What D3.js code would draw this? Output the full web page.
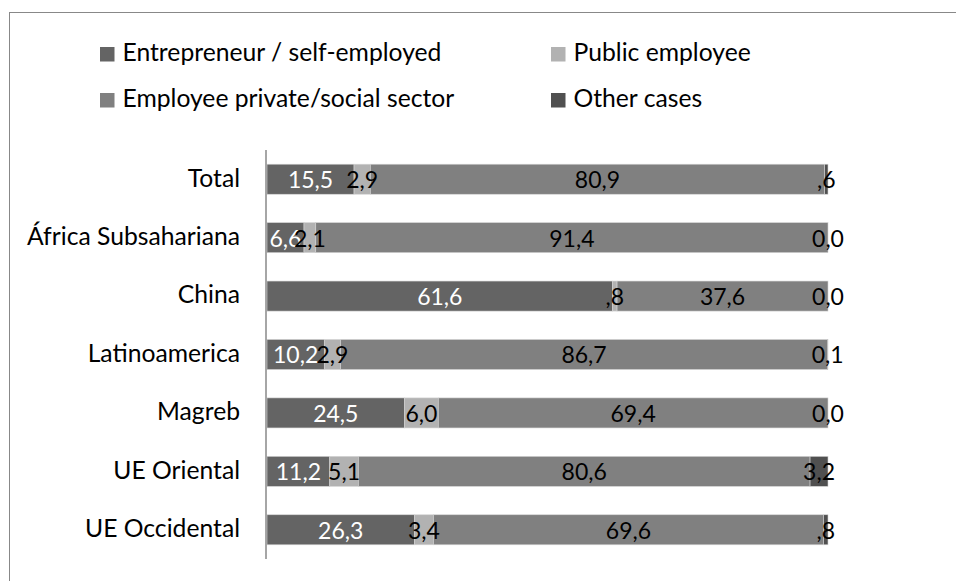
<!DOCTYPE html>
<html><head><meta charset="utf-8">
<script src="https://cdn.jsdelivr.net/npm/d3@7"></script>
<style>body{margin:0;background:#fff}svg{display:block}text{font-family:Lato,"Open Sans",sans-serif}</style>
</head><body>
<svg id="c" width="956" height="581"></svg>
<script>
const categories = ["Total","África Subsahariana","China","Latinoamerica","Magreb","UE Oriental","UE Occidental"];
const seriesNames = ["Entrepreneur / self-employed","Public employee","Employee private/social sector","Other cases"];
const entrepreneur = [15.5, 6.6, 61.6, 10.2, 24.5, 11.2, 26.3];
const publicEmployee = [2.9, 2.1, 0.8, 2.9, 6.0, 5.1, 3.4];
const privateEmployee = [80.9, 91.4, 37.6, 86.7, 69.4, 80.6, 69.6];
const otherCases = [0.6, 0.0, 0.0, 0.1, 0.0, 3.2, 0.8];
// label text as printed on the chart
const entrepreneurLabels = ["15,5","6,6","61,6","10,2","24,5","11,2","26,3"];
const publicLabels = ["2,9","2,1",",8","2,9","6,0","5,1","3,4"];
const privateLabels = ["80,9","91,4","37,6","86,7","69,4","80,6","69,6"];
const otherLabels = [",6","0,0","0,0","0,1","0,0","3,2",",8"];

const colors = ["#646464","#b2b2b2","#808080","#505050"];
const labelColors = ["#ffffff","#000000","#000000","#000000"];
const seriesValues = [entrepreneur, publicEmployee, privateEmployee, otherCases];
const seriesLabels = [entrepreneurLabels, publicLabels, privateLabels, otherLabels];

const svg = d3.select("#c");
svg.append("rect").attr("x",9.5).attr("y",12.5).attr("width",980).attr("height",620)
  .attr("fill","none").attr("stroke","#888").attr("stroke-width",1);

const x = d3.scaleLinear().domain([0,100]).range([267,828]);
const y = d3.scaleBand().domain(categories).range([150,559]).paddingInner(0.486).paddingOuter(0.243);

const rows = categories.map((c,i)=>{
  const vals = seriesValues.map(s=>s[i]);
  const tot = d3.sum(vals);
  let acc = 0;
  return vals.map((v,k)=>{ const x0 = acc/tot*100; acc += v; return {cat:c,k,x0,x1:acc/tot*100,label:seriesLabels[k][i]}; });
});

const g = svg.append("g");
rows.forEach(r=>{
  r.forEach(d=>{
    g.append("rect").attr("x",x(d.x0)).attr("y",y(d.cat)).attr("width",Math.max(0,x(d.x1)-x(d.x0)))
      .attr("height",y.bandwidth()).attr("fill",colors[d.k])
      .attr("stroke","#d4d4d4").attr("stroke-width",0.6).attr("stroke-opacity",d.x1-d.x0>0?1:0);
  });
});
rows.forEach(r=>{
  r.forEach(d=>{
    g.append("text").attr("x",(x(d.x0)+x(d.x1))/2).attr("y",y(d.cat)+y.bandwidth()/2)
      .attr("dy","0.39em").attr("text-anchor","middle").attr("font-size",23)
      .attr("fill",labelColors[d.k]).text(d.label);
  });
});

// axis
const axis = svg.append("g").attr("transform","translate(266,0)")
  .call(d3.axisLeft(y).tickSize(0).tickPadding(26));
axis.select(".domain").attr("stroke","#888").attr("stroke-width",1.5).attr("d","M0,150V559");
axis.selectAll("text").attr("font-size",24.7).attr("fill","#000").attr("font-family","Lato,'Open Sans',sans-serif").attr("dy","0.3em");

// legend
const legPos = [[100,47],[551,47],[100,93],[551,93]];
seriesNames.forEach((n,k)=>{
  const [lx,ly] = legPos[k];
  svg.append("rect").attr("x",lx).attr("y",ly).attr("width",14.5).attr("height",14.5).attr("fill",colors[k]);
  svg.append("text").attr("x",lx+22.5).attr("y",ly+14).attr("font-size",24.7).attr("fill","#000").text(n);
});
</script>
</body></html>
